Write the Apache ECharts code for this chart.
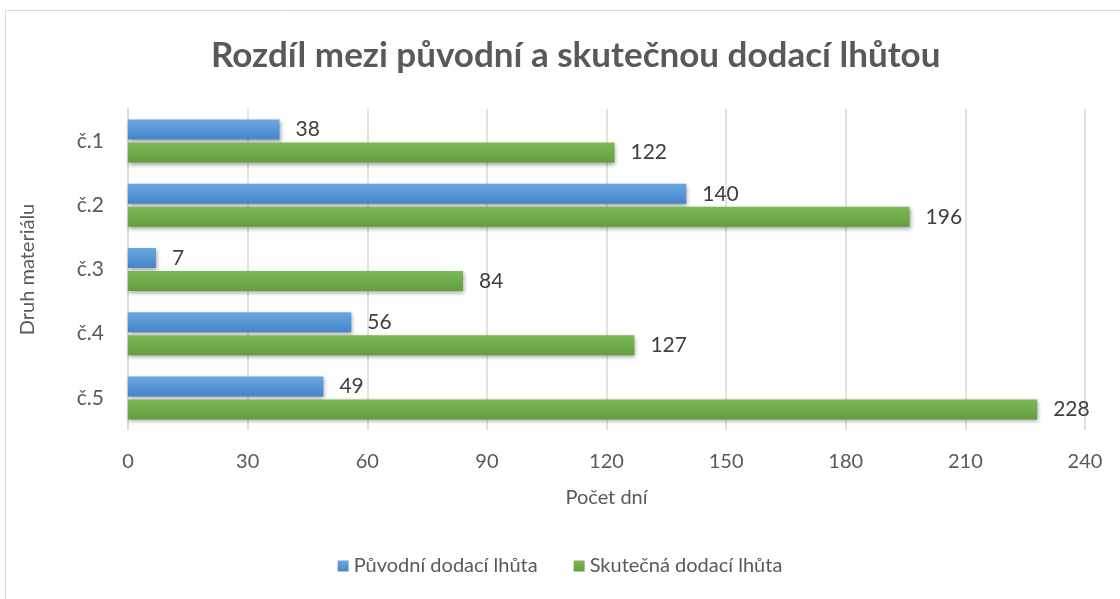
<!DOCTYPE html>
<html>
<head>
<meta charset="utf-8">
<script src="https://cdn.jsdelivr.net/npm/echarts@6/dist/echarts.min.js"></script>
<style>
  html, body { margin: 0; padding: 0; background: #fff; }
  #chart { width: 1120px; height: 599px; }
</style>
</head>
<body>
<div id="chart"></div>
<script>
const categories = ['č.1', 'č.2', 'č.3', 'č.4', 'č.5'];
const puvodni = [38, 140, 7, 56, 49];
const skutecna = [122, 196, 84, 127, 228];
const xTicks = { min: 0, max: 240, interval: 30 };

const FONT = 'Lato, "Open Sans", sans-serif';

function grad(top, bottom) {
    return new echarts.graphic.LinearGradient(0, 0, 0, 1, [
        { offset: 0, color: top },
        { offset: 1, color: bottom }
    ]);
}

const blue = grad('#6aa8e2', '#4585c8');
const green = grad('#7cb857', '#629f3c');

const labelStyle = {
    show: true,
    position: 'right',
    distance: 16,
    color: '#404040',
    fontSize: 21,
    fontFamily: FONT
};

const options = {
    animation: false,
    backgroundColor: '#fff',
    title: {
        text: 'Rozdíl mezi původní a skutečnou dodací lhůtou',
        left: 206,
        top: 33,
        textStyle: {
            color: '#595959',
            fontSize: 35,
            fontWeight: 'bold',
            fontFamily: FONT
        }
    },
    graphic: [{
        type: 'rect',
        shape: { x: 5.5, y: 10.5, width: 1300, height: 800 },
        style: { fill: 'none', stroke: '#d9d9d9', lineWidth: 1 },
        silent: true
    }],
    legend: {
        bottom: 18,
        left: 'center',
        itemWidth: 11,
        itemHeight: 11,
        itemGap: 36,
        icon: 'rect',
        textStyle: { color: '#595959', fontSize: 20, fontFamily: FONT }
    },
    grid: {
        left: 128,
        right: 35,
        top: 109,
        bottom: 169
    },
    xAxis: {
        type: 'value',
        min: xTicks.min,
        max: xTicks.max,
        interval: xTicks.interval,
        name: 'Počet dní',
        nameLocation: 'middle',
        nameGap: 58,
        nameTextStyle: { color: '#595959', fontSize: 20, fontFamily: FONT },
        axisLine: { show: false },
        axisTick: { show: false },
        axisLabel: { color: '#595959', fontSize: 20, fontFamily: FONT, margin: 22 },
        splitLine: { lineStyle: { color: '#d9d9d9', width: 1.5 } }
    },
    yAxis: {
        type: 'category',
        data: categories,
        inverse: true,
        name: 'Druh materiálu',
        nameLocation: 'middle',
        nameGap: 90,
        nameTextStyle: { color: '#595959', fontSize: 20, fontFamily: FONT },
        axisLine: { show: true, lineStyle: { color: '#d9d9d9', width: 1.5 } },
        axisTick: { show: false },
        axisLabel: { color: '#595959', fontSize: 21, fontFamily: FONT, margin: 24 }
    },
    series: [
        {
            name: 'Původní dodací lhůta',
            type: 'bar',
            data: puvodni,
            barWidth: 20,
            barGap: '15%',
            itemStyle: {
                color: blue,
                shadowColor: 'rgba(0,0,0,0.35)',
                shadowBlur: 4,
                shadowOffsetX: 1,
                shadowOffsetY: 2
            },
            label: labelStyle
        },
        {
            name: 'Skutečná dodací lhůta',
            type: 'bar',
            data: skutecna,
            barWidth: 20,
            itemStyle: {
                color: green,
                shadowColor: 'rgba(0,0,0,0.35)',
                shadowBlur: 4,
                shadowOffsetX: 1,
                shadowOffsetY: 2
            },
            label: labelStyle
        }
    ]
};

const E = echarts.init(document.getElementById('chart'));
E.setOption(options);
window.onresize = function () {
    E.resize();
};
</script>
</body>
</html>
